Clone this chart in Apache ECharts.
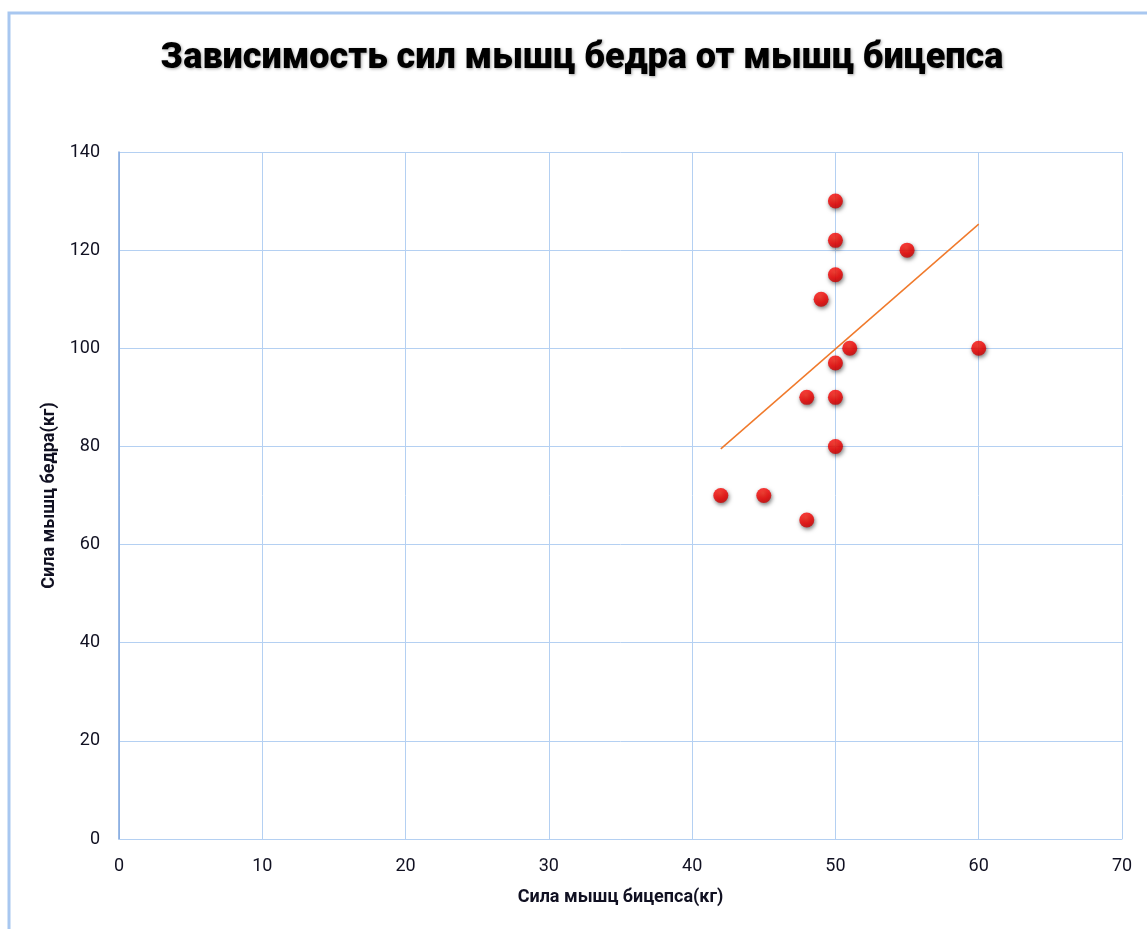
<!DOCTYPE html>
<html>
<head>
<meta charset="utf-8">
<script src="https://cdn.jsdelivr.net/npm/echarts@6/dist/echarts.min.js"></script>
<style>
  html, body { margin: 0; padding: 0; background: #fff; }
  #chart { width: 1147px; height: 929px; }
</style>
</head>
<body>
<div id="chart"></div>
<script>
// Biceps strength (x, kg) vs. thigh strength (y, kg)
const bicepsKg = [50, 50, 55, 50, 49, 51, 60, 50, 48, 50, 50, 42, 45, 48];
const thighKg  = [130, 122, 120, 115, 110, 100, 100, 97, 90, 90, 80, 70, 70, 65];

// Linear trendline end points
const trendX = [42, 60];
const trendY = [79.5, 125.3];

const xTicks = { min: 0, max: 70, step: 10 };
const yTicks = { min: 0, max: 140, step: 20 };

const titleText = 'Зависимость сил мышц бедра от мышц бицепса';
const xName = 'Сила мышц бицепса(кг)';
const yName = 'Сила мышц бедра(кг)';

const points = bicepsKg.map((x, i) => [x, thighKg[i]]);
const trend = trendX.map((x, i) => [x, trendY[i]]);

const gridBlue = '#b4d0f2';
const axisBlue = '#7fa6de';
const labelColor = '#111122';
const fontFamily = 'Roboto, "Noto Sans", sans-serif';

const chart = echarts.init(document.getElementById('chart'), null, { renderer: 'canvas' });

chart.setOption({
  backgroundColor: '#ffffff',
  animation: false,
  title: {
    text: titleText,
    left: 577,
    top: 36,
    textAlign: 'center',
    textStyle: {
      fontFamily: fontFamily,
      fontWeight: 900,
      fontSize: 36,
      color: '#000',
      textShadowColor: 'rgba(0,0,0,0.35)',
      textShadowBlur: 3,
      textShadowOffsetX: 1,
      textShadowOffsetY: 1
    }
  },
  graphic: [
    {
      type: 'polyline',
      silent: true,
      shape: { points: [[9, 929], [9, 13], [1147, 13]] },
      style: { stroke: '#a8c7f0', lineWidth: 3, fill: null }
    }
  ],
  grid: { left: 119, top: 152, right: 25, bottom: 90, containLabel: false },
  xAxis: {
    type: 'value',
    min: xTicks.min,
    max: xTicks.max,
    interval: xTicks.step,
    name: xName,
    nameLocation: 'middle',
    nameGap: 49,
    nameTextStyle: { fontFamily: fontFamily, fontWeight: 'bold', fontSize: 18, color: labelColor },
    axisLine: { show: true, lineStyle: { color: gridBlue, width: 1 } },
    axisTick: { show: false },
    axisLabel: { margin: 18, fontFamily: fontFamily, fontSize: 18, color: labelColor },
    splitLine: { show: true, lineStyle: { color: gridBlue, width: 1 } }
  },
  yAxis: {
    type: 'value',
    min: yTicks.min,
    max: yTicks.max,
    interval: yTicks.step,
    name: yName,
    nameLocation: 'middle',
    nameGap: 61,
    nameRotate: 90,
    nameTextStyle: { fontFamily: fontFamily, fontWeight: 'bold', fontSize: 18, color: labelColor },
    axisLine: { show: true, lineStyle: { color: axisBlue, width: 1.5 } },
    axisTick: { show: false },
    axisLabel: { margin: 19, fontFamily: fontFamily, fontSize: 18, color: labelColor },
    splitLine: { show: true, lineStyle: { color: gridBlue, width: 1 } }
  },
  series: [
    {
      type: 'line',
      data: trend,
      showSymbol: false,
      symbol: 'none',
      lineStyle: { color: '#f07a2c', width: 1.5 },
      z: 2
    },
    {
      type: 'scatter',
      data: points,
      symbol: 'circle',
      symbolSize: 15,
      itemStyle: {
        color: new echarts.graphic.RadialGradient(0.45, 0.35, 0.65, [
          { offset: 0, color: '#ff2a1a' },
          { offset: 0.6, color: '#f50000' },
          { offset: 1, color: '#c80000' }
        ]),
        shadowColor: 'rgba(0,0,0,0.65)',
        shadowBlur: 4,
        shadowOffsetX: 1,
        shadowOffsetY: 2
      },
      z: 3
    }
  ]
});
</script>
</body>
</html>
